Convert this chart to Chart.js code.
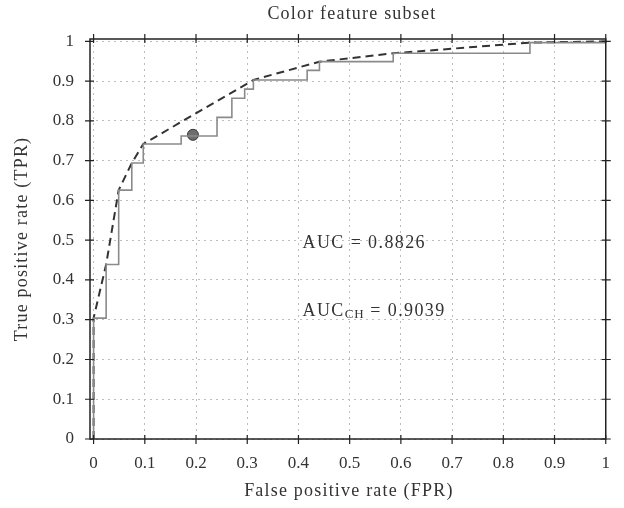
<!DOCTYPE html>
<html>
<head>
<meta charset="utf-8">
<script src="https://cdn.jsdelivr.net/npm/chart.js@4.4.1/dist/chart.umd.min.js"></script>
<style>
html,body{margin:0;padding:0;background:#fff;}
canvas{display:block;}
</style>
</head>
<body>
<canvas id="c" width="624" height="508"></canvas>
<script>
// ---- data ----
const chartTitle = "Color feature subset";
const xAxisTitle = "False positive rate (FPR)";
const yAxisTitle = "True positive rate (TPR)";
const tickValues = [0, 0.1, 0.2, 0.3, 0.4, 0.5, 0.6, 0.7, 0.8, 0.9, 1];
const tickLabels = ["0", "0.1", "0.2", "0.3", "0.4", "0.5", "0.6", "0.7", "0.8", "0.9", "1"];
// empirical ROC (step curve corner points)
const rocFPR = [0, 0, 0.0245, 0.049, 0.0746, 0.097, 0.171, 0.241, 0.270, 0.295, 0.312, 0.417, 0.441, 0.585, 0.852, 1];
const rocTPR = [0, 0.304, 0.439, 0.626, 0.694, 0.742, 0.762, 0.809, 0.857, 0.880, 0.903, 0.927, 0.949, 0.970, 0.997, 1];
// ROC convex hull
const hullFPR = [0, 0, 0.0245, 0.049, 0.0746, 0.097, 0.312, 0.441, 0.585, 0.852, 1];
const hullTPR = [0, 0.304, 0.439, 0.626, 0.694, 0.742, 0.903, 0.949, 0.970, 0.997, 1];
// operating point
const opFPR = [0.194];
const opTPR = [0.765];
// annotations
const aucText = "AUC = 0.8826";
const aucChBase = "AUC";
const aucChSub = "CH";
const aucChValue = " = 0.9039";
const aucPos = [0.408, 0.493];
const aucChPos = [0.408, 0.322];

const FONT = "'Liberation Serif', serif";
const toPts = (xs, ys) => xs.map((x, i) => ({x: x, y: ys[i]}));

const framePlugin = {
  id: 'frame',
  afterDraw(chart) {
    const ctx = chart.ctx;
    const a = chart.chartArea;
    const xs = chart.scales.x, ys = chart.scales.y;
    ctx.save();
    ctx.strokeStyle = '#222';
    ctx.lineWidth = 1.5;
    ctx.strokeRect(a.left, a.top, a.right - a.left, a.bottom - a.top);
    ctx.lineWidth = 1.2;
    ctx.beginPath();
    tickValues.forEach(v => {
      const px = xs.getPixelForValue(v);
      ctx.moveTo(px, a.bottom + 5); ctx.lineTo(px, a.bottom - 4);
      ctx.moveTo(px, a.top - 5); ctx.lineTo(px, a.top + 4);
      const py = ys.getPixelForValue(v);
      ctx.moveTo(a.left - 5, py); ctx.lineTo(a.left + 4, py);
      ctx.moveTo(a.right + 5, py); ctx.lineTo(a.right - 4, py);
    });
    ctx.stroke();

    ctx.fillStyle = '#333';
    ctx.textAlign = 'center';
    ctx.textBaseline = 'middle';
    ctx.font = "18px " + FONT;
    ctx.letterSpacing = '1.2px';
    ctx.fillText(chartTitle, (a.left + a.right) / 2 + 4, 14);
    ctx.fillText(xAxisTitle, (a.left + a.right) / 2 + 1, 491);
    ctx.save();
    ctx.translate(22, (a.top + a.bottom) / 2);
    ctx.rotate(-Math.PI / 2);
    ctx.fillText(yAxisTitle, 0, 0);
    ctx.restore();

    ctx.textAlign = 'left';
    ctx.letterSpacing = '1.4px';
    ctx.font = "18px " + FONT;
    ctx.fillText(aucText, xs.getPixelForValue(aucPos[0]), ys.getPixelForValue(aucPos[1]));
    let x0 = xs.getPixelForValue(aucChPos[0]);
    const y0 = ys.getPixelForValue(aucChPos[1]);
    ctx.fillText(aucChBase, x0, y0);
    x0 += ctx.measureText(aucChBase).width;
    ctx.font = "13px " + FONT;
    ctx.letterSpacing = '0.8px';
    ctx.fillText(aucChSub, x0, y0 + 4);
    x0 += ctx.measureText(aucChSub).width;
    ctx.font = "18px " + FONT;
    ctx.letterSpacing = '1.4px';
    ctx.fillText(aucChValue, x0, y0);
    ctx.restore();
  }
};

const axisCommon = (fitFn) => ({
  type: 'linear',
  afterBuildTicks: s => { s.ticks = tickValues.map(v => ({value: v})); },
  afterFit: fitFn,
  grid: {color: '#bdbdbd', lineWidth: 1, drawTicks: false},
  border: {display: false, dash: [2, 4]},
  ticks: {
    font: {family: FONT, size: 17},
    color: '#333',
    autoSkip: false,
    maxRotation: 0,
    callback: (v, i) => tickLabels[i]
  }
});

const xAxis = axisCommon(s => { s.height = 69; });
xAxis.min = -0.007; xAxis.max = 1; xAxis.ticks.padding = 14;
const yAxis = axisCommon(s => { s.width = 90; });
yAxis.min = 0; yAxis.max = 1.006; yAxis.ticks.padding = 16;

new Chart(document.getElementById('c'), {
  type: 'scatter',
  data: {
    datasets: [
      {
        data: toPts(rocFPR, rocTPR),
        showLine: true,
        stepped: 'before',
        borderColor: '#8a8a8a',
        borderWidth: 1.6,
        pointRadius: 0,
        fill: false
      },
      {
        data: toPts(hullFPR, hullTPR),
        showLine: true,
        borderColor: '#333',
        borderWidth: 2,
        borderDash: [8, 5],
        pointRadius: 0,
        fill: false
      },
      {
        data: toPts(opFPR, opTPR),
        showLine: false,
        pointRadius: 5.5,
        pointBackgroundColor: '#6e6e6e',
        pointBorderColor: '#333',
        pointBorderWidth: 1
      }
    ]
  },
  options: {
    responsive: false,
    animation: false,
    devicePixelRatio: 1,
    layout: {padding: {top: 39, right: 12, left: 0, bottom: 0}},
    plugins: {legend: {display: false}, title: {display: false}, tooltip: {enabled: false}},
    scales: {x: xAxis, y: yAxis}
  },
  plugins: [framePlugin]
});
</script>
</body>
</html>
